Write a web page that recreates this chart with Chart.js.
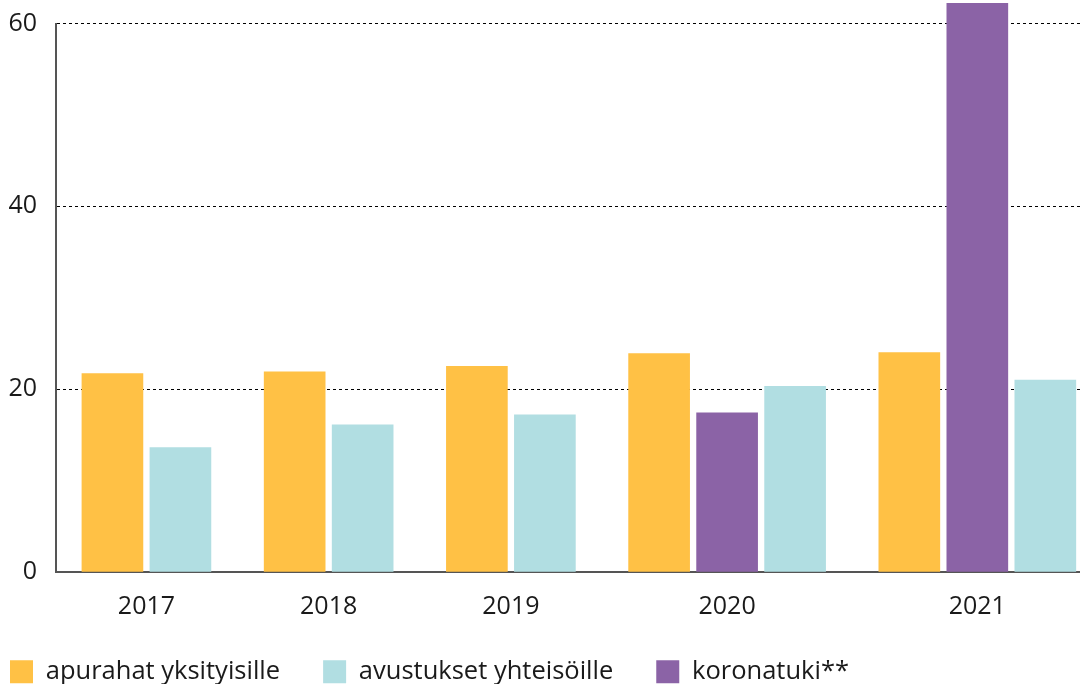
<!DOCTYPE html>
<html>
<head>
<meta charset="utf-8">
<script src="https://cdn.jsdelivr.net/npm/chart.js@4"></script>
<style>
  html, body { margin: 0; padding: 0; background: #fff; }
  #wrap { width: 1080px; height: 684px; }
</style>
</head>
<body>
<div id="wrap"><canvas id="grantChart" width="1080" height="684"></canvas></div>
<script>
// Data
const years = ["2017", "2018", "2019", "2020", "2021"];
const apurahat = [21.7, 21.9, 22.5, 23.9, 24.0];
const avustukset = [13.6, 16.1, 17.2, 20.3, 21.0];
const koronatuki = [null, null, null, 17.4, 62.2];
const seriesNames = ["apurahat yksityisille", "avustukset yhteisöille", "koronatuki**"];
const yTicks = [0, 20, 40, 60];

const seriesColors = ["#FFC145", "#B1DEE2", "#8B63A6"];
const series = [apurahat, avustukset, koronatuki];
// order of bars inside one year group
const barOrder = [0, 2, 1];
const groupGap = 0.68;

// build bar positions on a linear x scale, skipping empty values
const points = [[], [], []];
const groupCenters = [];
let pos = 0;
years.forEach((yr, i) => {
    const start = pos;
    barOrder.forEach(s => {
        const v = series[s][i];
        if (v === null) return;
        points[s].push({ x: pos, y: v });
        pos += 1;
    });
    groupCenters.push((start + pos - 1) / 2);
    pos += groupGap;
});

const fontFamily = "'Open Sans', 'Noto Sans', sans-serif";

// move the legend to the left edge and up a little
const legendShift = {
    id: "legendShift",
    afterUpdate(chart) {
        chart.legend.left -= 33;
        chart.legend.top -= 18;
    }
};

new Chart("grantChart", {
    type: "bar",
    data: {
        datasets: seriesNames.map((name, s) => ({
            label: name,
            data: points[s],
            backgroundColor: seriesColors[s],
            borderWidth: 0,
            barThickness: 61,
            grouped: false,
            clip: false
        }))
    },
    plugins: [legendShift],
    options: {
        responsive: false,
        animation: false,
        events: [],
        layout: { padding: { top: 23.5, right: 0, left: 0, bottom: -28.5 } },
        scales: {
            x: {
                type: "linear",
                offset: false,
                min: -0.83,
                max: 14.23,
                grid: { display: false, drawTicks: false },
                border: { display: true, color: "#555", width: 2 },
                afterBuildTicks: scale => {
                    scale.ticks = groupCenters.map(v => ({ value: v }));
                },
                ticks: {
                    autoSkip: false,
                    maxRotation: 0,
                    padding: 20,
                    color: "#1a1a1a",
                    font: { family: fontFamily, size: 25 },
                    callback: (v, i) => years[i]
                },
                afterFit: scale => { scale.height = 62; }
            },
            y: {
                min: 0,
                max: 60,
                afterBuildTicks: scale => {
                    scale.ticks = yTicks.map(v => ({ value: v }));
                },
                grid: { color: "#000", lineWidth: 1, drawTicks: false },
                border: { display: true, color: "#555", width: 2, dash: [3, 3] },
                ticks: {
                    padding: 19,
                    color: "#1a1a1a",
                    font: { family: fontFamily, size: 25 }
                },
                afterFit: scale => {
                    scale.width = 56;
                    scale.paddingTop = 0;
                    scale.paddingBottom = 0;
                }
            }
        },
        plugins: {
            tooltip: { enabled: false },
            legend: {
                position: "bottom",
                align: "start",
                labels: {
                    boxWidth: 23,
                    boxHeight: 23,
                    padding: 43,
                    color: "#1a1a1a",
                    font: { family: fontFamily, size: 25.5 }
                }
            }
        }
    }
});
</script>
</body>
</html>
